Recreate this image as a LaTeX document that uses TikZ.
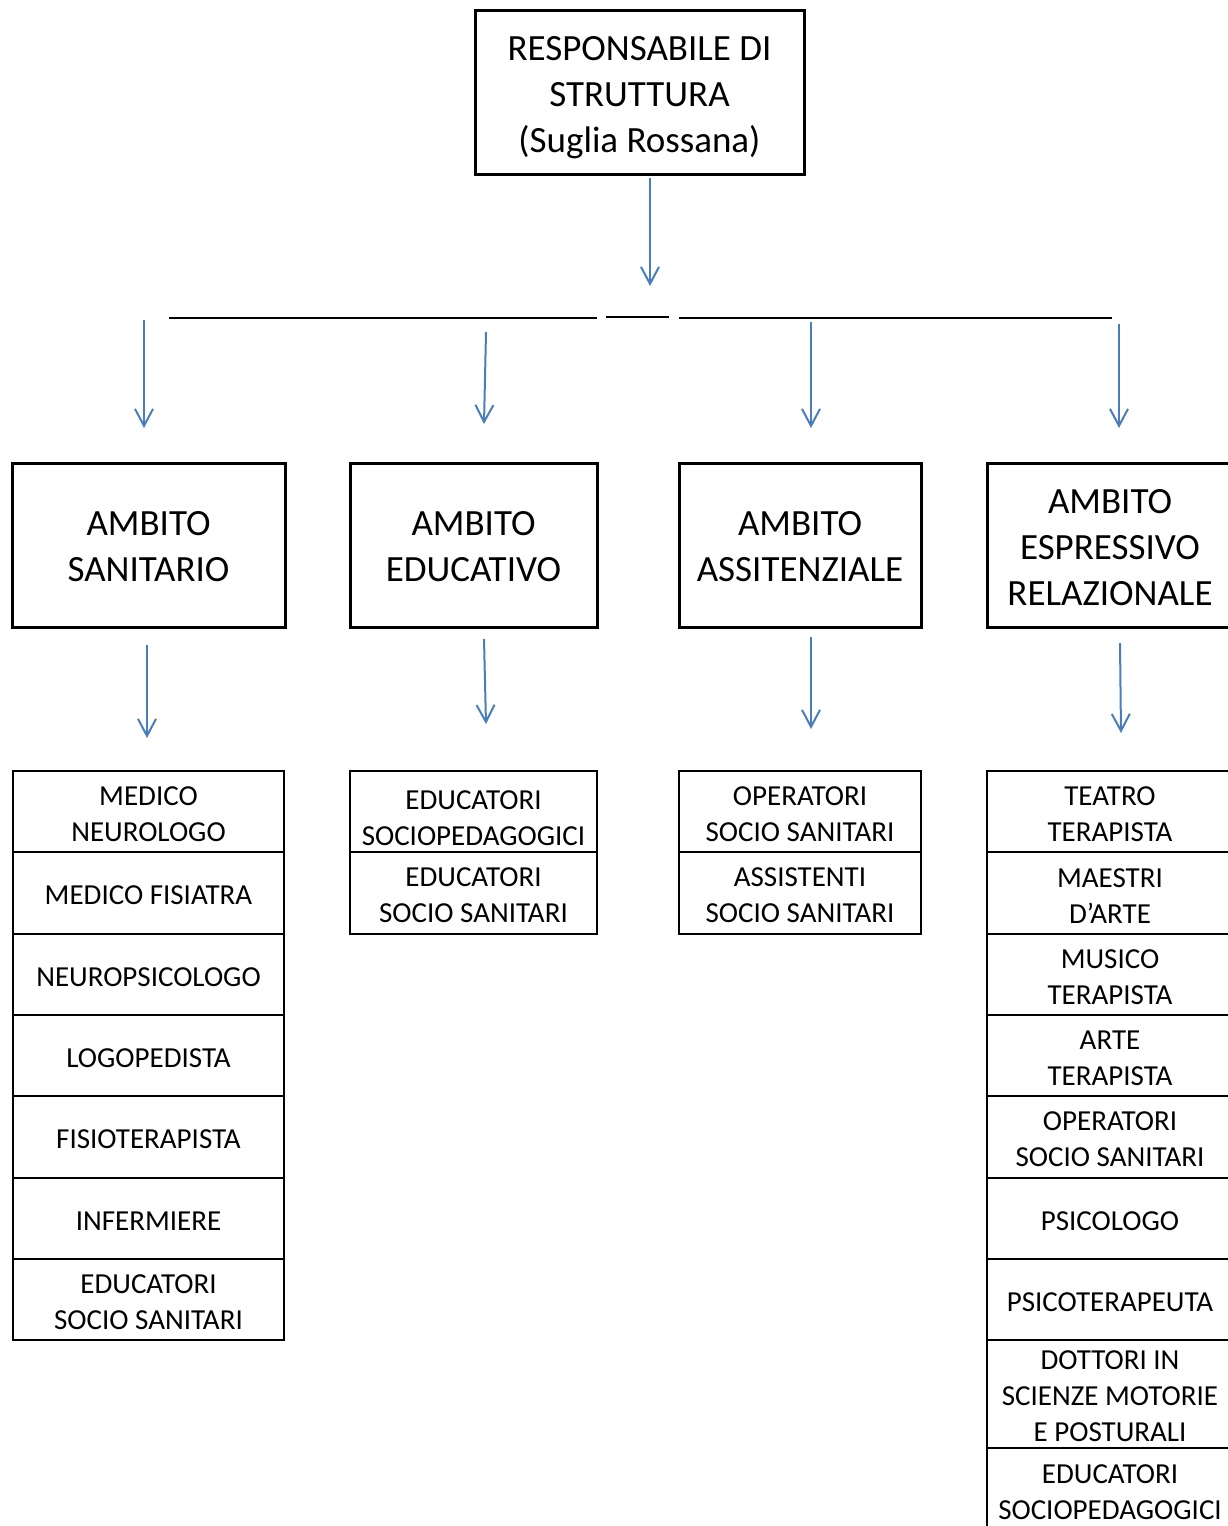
\documentclass[tikz,border=0pt]{standalone}
\usepackage{fontspec}
\setmainfont{Carlito}
\usetikzlibrary{arrows.meta}
\definecolor{arrowblue}{RGB}{74,126,187}
\newcommand\lift[1]{\rule{0pt}{#1pt}}
\begin{document}
\begin{tikzpicture}[x=1pt,y=-1pt,
  bigbox/.style={draw, line width=3pt, inner sep=0pt, align=center, font=\fontsize{37}{46}\selectfont},
  cell/.style={draw, line width=2pt, inner sep=0pt, align=center, font=\fontsize{29}{36}\selectfont},
  conn/.style={draw=arrowblue, line width=2pt, -{Straight Barb[length=17pt,width=18pt,line width=2pt]}},
  hline/.style={line width=2.5pt}]
\useasboundingbox (0,0) rectangle (1228,1526);
\clip (0,0) rectangle (1228,1526);

% top box
\node[bigbox, minimum width=329pt, minimum height=164pt] (top) at (639.5,92) {\lift{36}RESPONSABILE DI\\STRUTTURA\\(Suglia Rossana)};

% ambito boxes
\node[bigbox, minimum width=273pt, minimum height=164pt] (san) at (148.5,545) {\lift{28}AMBITO\\SANITARIO};
\node[bigbox, minimum width=247pt, minimum height=164pt] (edu) at (473.5,545) {\lift{28}AMBITO\\EDUCATIVO};
\node[bigbox, minimum width=242pt, minimum height=164pt] (ass) at (800,545) {\lift{28}AMBITO\\ASSITENZIALE};
\node[bigbox, minimum width=246pt, minimum height=164pt] (esp) at (1110,545) {\lift{30}AMBITO\\ESPRESSIVO\\RELAZIONALE};

% column 1 cells
\begin{scope}[every node/.style={cell, minimum width=271pt}]
\node[minimum height=81pt] (s1) at (148.5,811.5) {\lift{24}MEDICO\\NEUROLOGO};
\node[minimum height=82pt] (s2) at (148.5,893) {\lift{24}MEDICO FISIATRA};
\node[minimum height=81pt] (s3) at (148.5,974.5) {\lift{24}NEUROPSICOLOGO};
\node[minimum height=81pt] (s4) at (148.5,1055.5) {\lift{24}LOGOPEDISTA};
\node[minimum height=82pt] (s5) at (148.5,1137) {\lift{24}FISIOTERAPISTA};
\node[minimum height=81pt] (s6) at (148.5,1218.5) {\lift{24}INFERMIERE};
\node[minimum height=81pt] (s7) at (148.5,1299.5) {\lift{24}EDUCATORI\\SOCIO SANITARI};
\end{scope}

% column 2 cells
\begin{scope}[every node/.style={cell, minimum width=247pt}]
\node[minimum height=81pt] (e1) at (473.5,811.5) {\lift{32}EDUCATORI\\SOCIOPEDAGOGICI};
\node[minimum height=82pt] (e2) at (473.5,893) {\lift{24}EDUCATORI\\SOCIO SANITARI};
\end{scope}

% column 3 cells
\begin{scope}[every node/.style={cell, minimum width=242pt}]
\node[minimum height=81pt] (a1) at (800,811.5) {\lift{24}OPERATORI\\SOCIO SANITARI};
\node[minimum height=82pt] (a2) at (800,893) {\lift{24}ASSISTENTI\\SOCIO SANITARI};
\end{scope}

% column 4 cells
\begin{scope}[every node/.style={cell, minimum width=246pt}]
\node[minimum height=81pt] (r1) at (1110,811.5) {\lift{24}TEATRO\\TERAPISTA};
\node[minimum height=82pt] (r2) at (1110,893) {\lift{24}MAESTRI\\D’ARTE};
\node[minimum height=81pt] (r3) at (1110,974.5) {\lift{24}MUSICO\\TERAPISTA};
\node[minimum height=81pt] (r4) at (1110,1055.5) {\lift{24}ARTE\\TERAPISTA};
\node[minimum height=82pt] (r5) at (1110,1137) {\lift{24}OPERATORI\\SOCIO SANITARI};
\node[minimum height=81pt] (r6) at (1110,1218.5) {\lift{24}PSICOLOGO};
\node[minimum height=81pt] (r7) at (1110,1299.5) {\lift{24}PSICOTERAPEUTA};
\node[minimum height=108pt] (r8) at (1110,1394) {\lift{24}DOTTORI IN\\SCIENZE MOTORIE\\E POSTURALI};
\node[minimum height=86pt] (r9) at (1110,1491) {\lift{21}EDUCATORI\\SOCIOPEDAGOGICI};
\end{scope}

% horizontal bar segments
\coordinate (h1a) at (169,318); \coordinate (h1b) at (597,318);
\coordinate (h2a) at (606,317); \coordinate (h2b) at (669,317);
\coordinate (h3a) at (679,318); \coordinate (h3b) at (1112,318);
\draw[hline] (h1a) -- (h1b);
\draw[hline] (h2a) -- (h2b);
\draw[hline] (h3a) -- (h3b);

% arrows
\coordinate (t0a) at (650,178); \coordinate (t0b) at (650,286);
\draw[conn] (t0a) -- (t0b);

\coordinate (u1a) at (144,320); \coordinate (u1b) at (144,428);
\coordinate (u2a) at (486,332); \coordinate (u2b) at (484,424);
\coordinate (u3a) at (811,322); \coordinate (u3b) at (811,428);
\coordinate (u4a) at (1119,324); \coordinate (u4b) at (1119,428);
\draw[conn] (u1a) -- (u1b);
\draw[conn] (u2a) -- (u2b);
\draw[conn] (u3a) -- (u3b);
\draw[conn] (u4a) -- (u4b);

\coordinate (d1a) at (147,645); \coordinate (d1b) at (147,738);
\coordinate (d2a) at (484,639); \coordinate (d2b) at (486,724);
\coordinate (d3a) at (811,637); \coordinate (d3b) at (811,729);
\coordinate (d4a) at (1120,643); \coordinate (d4b) at (1121,733);
\draw[conn] (d1a) -- (d1b);
\draw[conn] (d2a) -- (d2b);
\draw[conn] (d3a) -- (d3b);
\draw[conn] (d4a) -- (d4b);
\end{tikzpicture}
\end{document}
